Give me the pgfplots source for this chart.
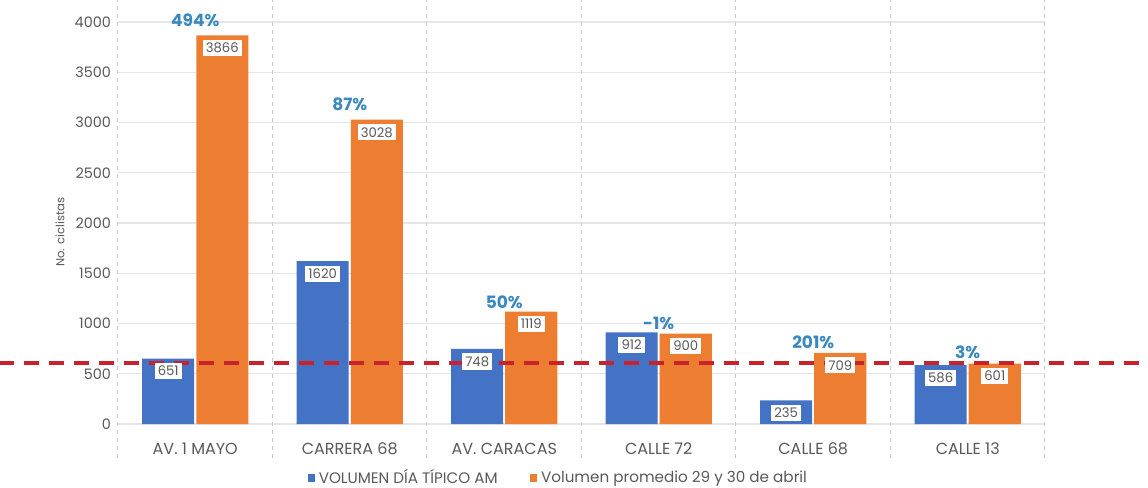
\documentclass[border=0pt]{standalone}
\usepackage{fontspec}
\setmainfont{Poppins}
\usepackage{pgfplots}
\pgfplotsset{compat=1.18}
\definecolor{cblue}{HTML}{4472C4}
\definecolor{corange}{HTML}{ED7D31}
\definecolor{pctblue}{HTML}{3A88C0}
\definecolor{txtgray}{HTML}{595959}
\definecolor{gridgray}{HTML}{E6E6E6}
\definecolor{sepgray}{HTML}{C8C8C8}
\definecolor{refred}{HTML}{C8232C}
\begin{document}
\begin{tikzpicture}[x=1pt,y=1pt]
\useasboundingbox (0,0) rectangle (574,244);
\begin{axis}[
  at={(59pt,15pt)}, anchor=south west, scale only axis,
  width=463.5pt, height=229pt,
  xmin=-0.5, xmax=5.5, ymin=-338, ymax=4219,
  enlargelimits=false, clip=false,
  ybar, bar width=0.337,
  /pgf/number format/assume math mode=true,
  /pgf/number format/1000 sep={},
  axis line style={draw=none},
  tick style={draw=none},
  ytick={0,500,...,4000},
  ymajorgrids, y grid style={gridgray, line width=0.6pt},
  xtick={0,...,5},
  xticklabels={AV. 1 MAYO, CARRERA 68, AV. CARACAS, CALLE 72, CALLE 68, CALLE 13},
  extra x ticks={-0.5,0.5,...,5.5},
  extra x tick labels={},
  extra x tick style={grid=major, major grid style={draw=sepgray, line width=0.5pt, dash pattern=on 2pt off 2pt}},
  xticklabel style={anchor=center, yshift=9pt, font=\fontsize{8}{9}\selectfont, text=txtgray},
  yticklabel style={font=\fontsize{7.2}{9}\selectfont, text=txtgray},
  ylabel={No. ciclistas},
  ylabel style={at={(rel axis cs:-0.0626,0.493)}, anchor=center, font=\fontsize{5.8}{7}\selectfont, text=txtgray},
  nodes near coords,
  every node near coord/.append style={anchor=north, yshift=-2pt, fill=white, inner sep=1.6pt, font=\fontsize{6.6}{8}\selectfont, text=txtgray},
  legend style={at={(rel axis cs:0.476,-0.0437)}, anchor=center, draw=none, fill=none, legend columns=2,
    font=\fontsize{7.6}{9}\selectfont, text=txtgray,
    /tikz/every even column/.append style={column sep=14pt}},
  legend image code/.code={\fill[#1] (0pt,-1.8pt) rectangle (3.6pt,1.8pt);},
]
\addplot[fill=cblue, draw=none, bar shift=-0.175] coordinates {(0,651) (1,1620) (2,748) (3,912) (4,235) (5,586)};
\addplot[fill=corange, draw=none, bar shift=0.175] coordinates {(0,3866) (1,3028) (2,1119) (3,900) (4,709) (5,601)};
\legend{VOLUMEN DÍA TÍPICO AM, Volumen promedio 29 y 30 de abril}
\draw[refred, line width=2.2pt, dash pattern=on 7.5pt off 5pt] (axis cs:-1.27,607) -- (axis cs:6.17,607);
\tikzset{pct/.style={anchor=base, text=pctblue, font=\fontsize{8.5}{10}\selectfont\bfseries, inner sep=0pt}}
\node[pct] at (axis cs:0,3960) {494\%};
\node[pct] at (axis cs:1,3124) {87\%};
\node[pct] at (axis cs:2,1154) {50\%};
\node[pct] at (axis cs:3,945) {-1\%};
\node[pct] at (axis cs:4,756) {201\%};
\node[pct] at (axis cs:5,657) {3\%};
\end{axis}
\end{tikzpicture}
\end{document}
